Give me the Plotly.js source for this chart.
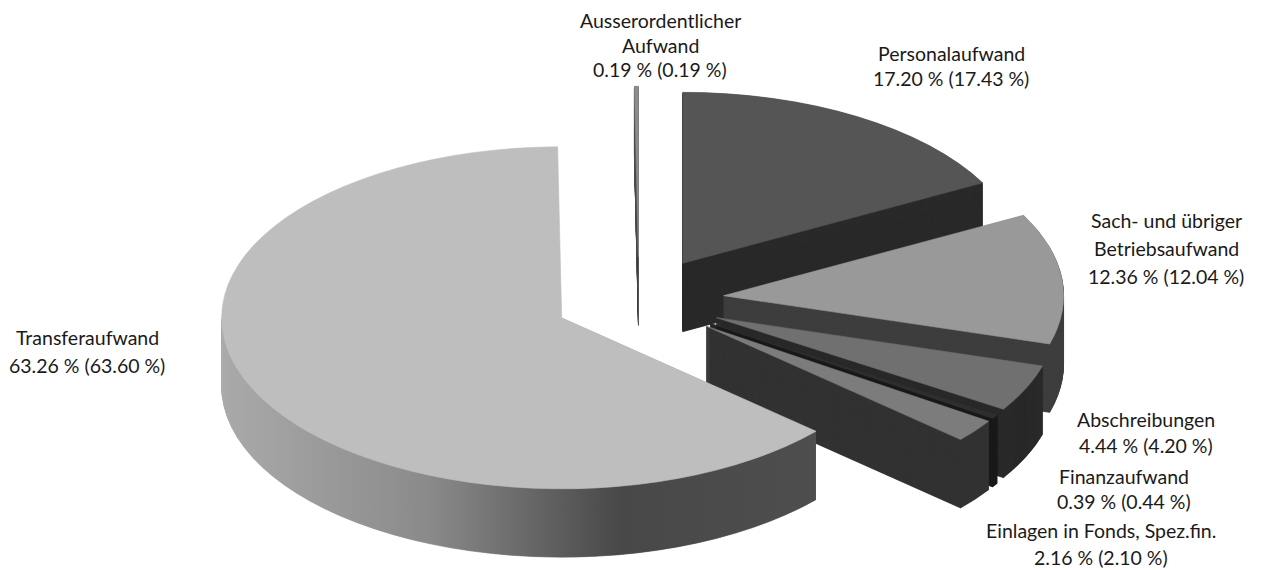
<!DOCTYPE html>
<html>
<head>
<meta charset="utf-8">
<script src="https://cdn.plot.ly/plotly-3.0.1.min.js"></script>
<style>html,body{margin:0;padding:0;background:#fff;overflow:hidden}#chart{width:1261px;height:570px}</style>
</head>
<body>
<div id="chart"></div>
<script>
// Data
const categories = ["Personalaufwand", "Sach- und übriger\nBetriebsaufwand", "Abschreibungen", "Finanzaufwand", "Einlagen in Fonds, Spez.fin.", "Transferaufwand", "Ausserordentlicher\nAufwand"];
const shares = [17.20, 12.36, 4.44, 0.39, 2.16, 63.26, 0.19];
const priorShares = [17.43, 12.04, 4.20, 0.44, 2.10, 63.60, 0.19];

// Styles
const topColors = ["#555555", "#999999", "#707070", "#2e2e2e", "#7c7c7c", "#bebebe", "#8c8c8c"];
const wallColors = ["#2b2b2b", "#3f3f3f", "#2a2a2a", "#1a1a1a", "#333333", "#777777", "#555555"];
const explode = 0.25;

// Layout of the extruded pie
const W = 1261, H = 570;
const baseR = 150, depthLayers = 120, layerStep = 0.5;
const finalCx = 639, finalCy = 300, finalRx = 340, finalRy = 171;
const baseCy = 240, half = baseR * (1 + explode);
const labelPos = [
  {x: 951, y: 54, gap: 25}, {x: 1166, y: 220, gap: 28}, {x: 1146, y: 419, gap: 26}, {x: 1124, y: 476, gap: 25},
  {x: 1101, y: 530, gap: 27}, {x: 87, y: 337, gap: 28}, {x: 660, y: 20, gap: 25}
];

const traces = [];
for (let i = depthLayers; i >= 0; i--) {
  const cy = baseCy + i * layerStep;
  const cols = i === 0 ? topColors : wallColors;
  traces.push({
    type: "pie",
    values: shares,
    labels: categories,
    sort: false,
    direction: "clockwise",
    rotation: 0,
    pull: shares.map(() => explode),
    textinfo: "none",
    hoverinfo: "skip",
    showlegend: false,
    marker: {colors: cols, line: {width: 0.35, color: cols}},
    domain: {
      x: [(W / 2 - half) / W, (W / 2 + half) / W],
      y: [1 - (cy + half) / H, 1 - (cy - half) / H]
    }
  });
}

const annotations = [];
categories.forEach((c, i) => {
  const lines = c.split("\n").concat([shares[i].toFixed(2) + " % (" + priorShares[i].toFixed(2) + " %)"]);
  lines.forEach((t, k) => {
    annotations.push({
      xref: "paper", yref: "paper", xanchor: "center", yanchor: "middle", showarrow: false,
      x: labelPos[i].x / W, y: 1 - (labelPos[i].y + k * labelPos[i].gap) / H,
      text: t, font: {family: "Lato, sans-serif", size: 19.5, color: "#1a1a1a"}
    });
  });
});

const layout = {
  width: W, height: H,
  margin: {l: 0, r: 0, t: 0, b: 0},
  paper_bgcolor: "#fff",
  showlegend: false,
  annotations: annotations
};

Plotly.newPlot("chart", traces, layout, {displayModeBar: false, staticPlot: true}).then(gd => {
  const svg = gd.querySelector("svg.main-svg");
  const NS = "http://www.w3.org/2000/svg";
  let defs = svg.querySelector("defs");
  const g = document.createElementNS(NS, "linearGradient");
  g.setAttribute("id", "transferWall");
  [[0, "#aaaaaa"], [0.35, "#8a8a8a"], [0.67, "#484848"], [1, "#4e4e4e"]].forEach(s => {
    const st = document.createElementNS(NS, "stop");
    st.setAttribute("offset", s[0]);
    st.setAttribute("stop-color", s[1]);
    g.appendChild(st);
  });
  defs.appendChild(g);

  // only the front half of the big slice's wall is visible in the reference
  const clip = document.createElementNS(NS, "clipPath");
  clip.setAttribute("id", "transferWallClip");
  clip.setAttribute("clipPathUnits", "objectBoundingBox");
  const rect = document.createElementNS(NS, "rect");
  rect.setAttribute("x", "-0.1");
  rect.setAttribute("y", "0.5");
  rect.setAttribute("width", "1.2");
  rect.setAttribute("height", "0.6");
  clip.appendChild(rect);
  defs.appendChild(clip);

  const layer = gd.querySelector(".pielayer");
  const sx = finalRx / baseR, sy = finalRy / baseR;
  layer.setAttribute("transform", "translate(" + (finalCx - W / 2 * sx) + "," + (finalCy - baseCy * sy) + ") scale(" + sx + "," + sy + ")");
  const idx = categories.indexOf("Transferaufwand");
  const tr = layer.querySelectorAll(".trace");
  tr.forEach((t, n) => {
    if (n === tr.length - 1) return;
    const p = t.querySelectorAll(".slice")[idx].querySelector("path");
    if (p) {
      p.style.fill = "url(#transferWall)";
      p.style.stroke = "url(#transferWall)";
      p.setAttribute("clip-path", "url(#transferWallClip)");
    }
  });
});
</script>
</body>
</html>
